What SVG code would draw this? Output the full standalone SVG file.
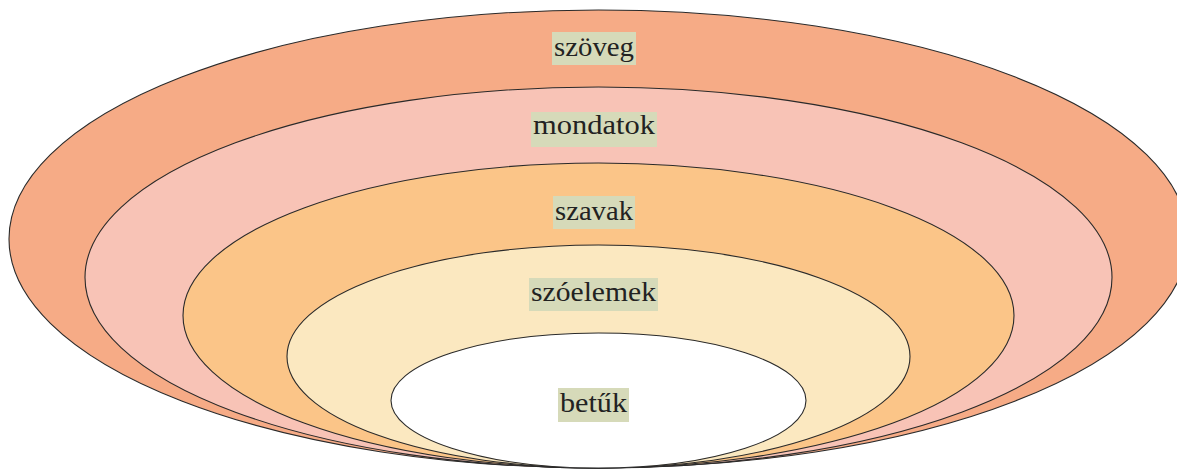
<svg xmlns="http://www.w3.org/2000/svg" width="1177" height="470" viewBox="0 0 1177 470">
<style>
.ring{stroke:#2a2a2a;stroke-width:1.1}
.lbl{fill:#d6dab9}
.t{font-family:"Liberation Serif","Times New Roman",serif;font-size:28px;fill:#222;text-anchor:middle}
</style>
<rect width="1177" height="470" fill="#fff"/>
<g id="szoveg">
<ellipse class="ring" cx="598.5" cy="239" rx="589.5" ry="229" fill="#f6ab86"/>
<rect class="lbl" x="552" y="32" width="84" height="33"/>
<text class="t" x="594" y="56" textLength="80" lengthAdjust="spacingAndGlyphs">szöveg</text>
</g>
<g id="mondatok">
<ellipse class="ring" cx="598.5" cy="277.5" rx="513.5" ry="190.5" fill="#f8c3b6"/>
<rect class="lbl" x="531" y="112" width="126" height="35"/>
<text class="t" x="594" y="134" textLength="122" lengthAdjust="spacingAndGlyphs">mondatok</text>
</g>
<g id="szavak">
<ellipse class="ring" cx="598.5" cy="315.5" rx="415.5" ry="152.5" fill="#fbc588"/>
<rect class="lbl" x="553" y="196" width="82" height="33"/>
<text class="t" x="594" y="220" textLength="78" lengthAdjust="spacingAndGlyphs">szavak</text>
</g>
<g id="szoelemek">
<ellipse class="ring" cx="598.5" cy="356.5" rx="311.5" ry="111.5" fill="#fbe8c0"/>
<rect class="lbl" x="529" y="278" width="129" height="33"/>
<text class="t" x="593.5" y="301" textLength="125" lengthAdjust="spacingAndGlyphs">szóelemek</text>
</g>
<g id="betuk">
<ellipse class="ring" cx="598.5" cy="400.5" rx="207.5" ry="67.5" fill="#ffffff"/>
<rect class="lbl" x="558" y="388" width="71" height="34"/>
<text class="t" x="593.5" y="412" textLength="67" lengthAdjust="spacingAndGlyphs">betűk</text>
</g>
<g id="connectors"/>
</svg>
